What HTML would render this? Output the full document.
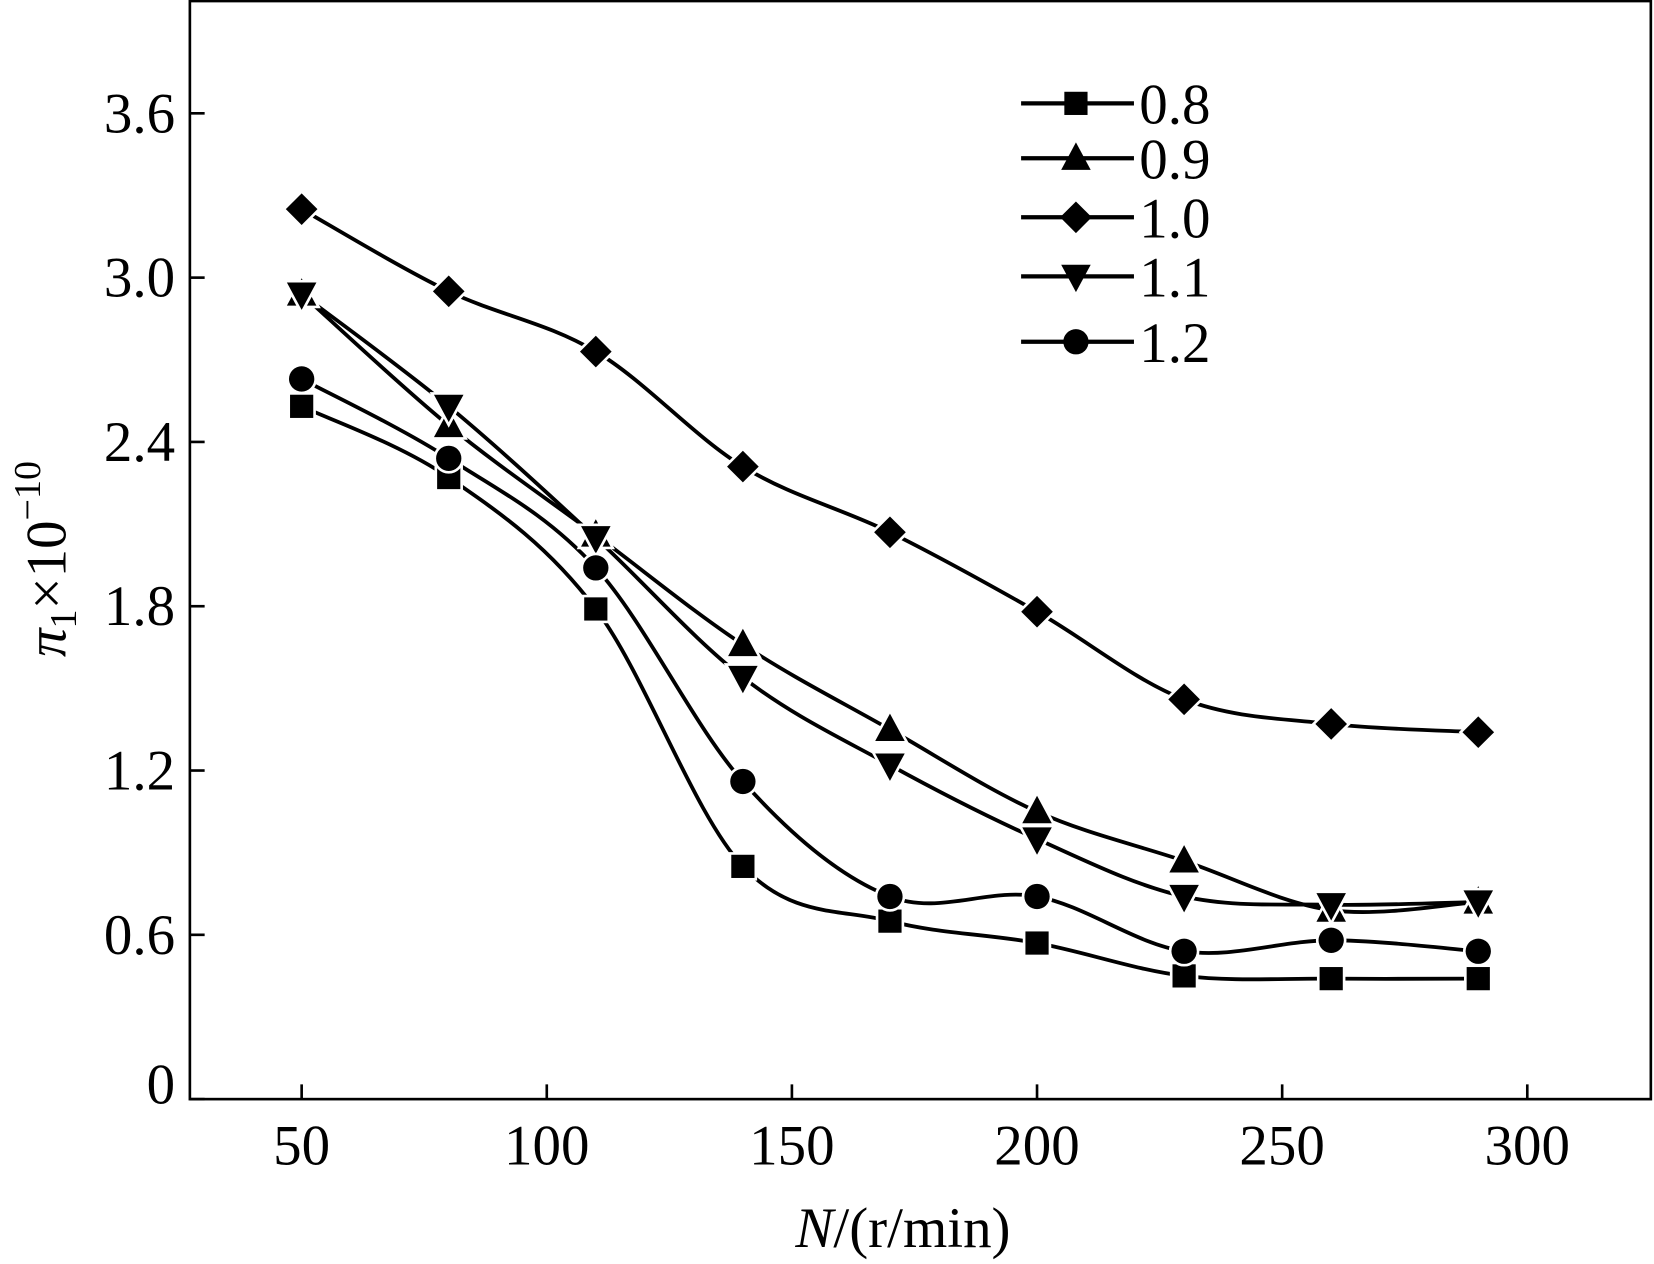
<!DOCTYPE html>
<html><head><meta charset="utf-8"><style>
html,body{margin:0;padding:0;background:#fff;}
svg{display:block;font-family:"Liberation Serif",serif;}
</style></head><body>
<svg id="chart" width="1654" height="1264" viewBox="0 0 1568 1198.3" preserveAspectRatio="none" xmlns="http://www.w3.org/2000/svg">
<g id="plot"></g>
</svg>
<script>
const xValues = [50, 80, 110, 140, 170, 200, 230, 260, 290];
const seriesNames = ["0.8", "0.9", "1.0", "1.1", "1.2"];
const s08 = [2.53, 2.27, 1.79, 0.85, 0.65, 0.57, 0.45, 0.44, 0.44];
const s09 = [2.94, 2.46, 2.06, 1.66, 1.35, 1.05, 0.87, 0.69, 0.72];
const s10 = [3.25, 2.95, 2.73, 2.31, 2.07, 1.78, 1.46, 1.37, 1.34];
const s11 = [2.94, 2.53, 2.05, 1.54, 1.22, 0.95, 0.74, 0.71, 0.72];
const s12 = [2.63, 2.34, 1.94, 1.16, 0.74, 0.74, 0.54, 0.58, 0.54];
const xTicks = [50, 100, 150, 200, 250, 300];
const yTicks = [0, 0.6, 1.2, 1.8, 2.4, 3.0, 3.6];
const yTickLabels = ["0", "0.6", "1.2", "1.8", "2.4", "3.0", "3.6"];

const NS = "http://www.w3.org/2000/svg";
const L = 180, R = 1565, T = 1, B = 1042;
const xMin = 27.2, xMax = 325.2, yMin = 0, yMax = 4.01;
const sx = v => L + (v - xMin) / (xMax - xMin) * (R - L);
const sy = v => B - (v - yMin) / (yMax - yMin) * (B - T);
const g = document.getElementById('plot');
function mk(tag, attrs, parent) {
  const e = document.createElementNS(NS, tag);
  for (const k in attrs) e.setAttribute(k, attrs[k]);
  (parent || g).appendChild(e);
  return e;
}
const frame = mk('rect', {x: L, y: T, width: R - L, height: B - T, fill: 'none', stroke: '#000', 'stroke-width': 2.5});



xTicks.forEach(v => {
  const t = mk('line', {x1: sx(v), x2: sx(v), y1: B, y2: B - 14, stroke: '#000', 'stroke-width': 2.5});
  
  
  const tx = mk('text', {x: sx(v), y: B + 62, 'font-size': 54, 'text-anchor': 'middle'});
  tx.textContent = v;
  
  
});
yTicks.forEach((v, i) => {
  const t = mk('line', {x1: L, x2: L + 14, y1: sy(v), y2: sy(v), stroke: '#000', 'stroke-width': 2.5});
  
  
  const tx = mk('text', {x: L - 14, y: sy(v) + (v === 0 ? 4 : 18), 'font-size': 54, 'text-anchor': 'end'});
  tx.textContent = yTickLabels[i];
  
  
});

const xl = mk('text', {x: 856, y: 1182, 'font-size': 54, 'text-anchor': 'middle'});
xl.innerHTML = '<tspan font-style="italic">N</tspan>/(r/min)';


const yl = mk('text', {x: 0, y: 0, 'font-size': 54, 'text-anchor': 'middle', transform: 'translate(62,530) rotate(-90)'});
yl.innerHTML = '<tspan font-style="italic">π</tspan><tspan font-size="36" dy="10">1</tspan><tspan dy="-10">×10</tspan><tspan font-size="36" dy="-24">−10</tspan>';



function marker(kind, cx, cy, parent) {
  const s = 11, a = {fill: '#000', stroke: '#fff', 'stroke-width': 5, 'paint-order': 'stroke'};
  let e;
  if (kind === 0) e = mk('rect', Object.assign({x: cx - s, y: cy - s, width: 2 * s, height: 2 * s}, a), parent);
  else if (kind === 1) e = mk('polygon', Object.assign({points: `${cx},${cy - 15} ${cx + 14},${cy + 11} ${cx - 14},${cy + 11}`}, a), parent);
  else if (kind === 2) e = mk('polygon', Object.assign({points: `${cx},${cy - 15} ${cx + 15},${cy} ${cx},${cy + 15} ${cx - 15},${cy}`}, a), parent);
  else if (kind === 3) e = mk('polygon', Object.assign({points: `${cx},${cy + 15} ${cx + 14},${cy - 11} ${cx - 14},${cy - 11}`}, a), parent);
  else e = mk('circle', Object.assign({cx: cx, cy: cy, r: 12}, a), parent);
  return e;
}
function curve(pts) {
  let d = `M${pts[0][0]},${pts[0][1]}`;
  for (let i = 0; i < pts.length - 1; i++) {
    const p0 = pts[Math.max(i - 1, 0)], p1 = pts[i], p2 = pts[i + 1], p3 = pts[Math.min(i + 2, pts.length - 1)];
    const c1 = [p1[0] + (p2[0] - p0[0]) / 6, p1[1] + (p2[1] - p0[1]) / 6];
    const c2 = [p2[0] - (p3[0] - p1[0]) / 6, p2[1] - (p3[1] - p1[1]) / 6];
    d += ` C${c1[0]},${c1[1]} ${c2[0]},${c2[1]} ${p2[0]},${p2[1]}`;
  }
  return d;
}
const allSeries = [s08, s09, s10, s11, s12];
allSeries.forEach((vals, k) => {
  const grp = mk('g', {});
  
  
  const pts = vals.map((v, i) => [sx(xValues[i]), sy(v)]);
  const p = mk('path', {d: curve(pts), fill: 'none', stroke: '#000', 'stroke-width': 3.6}, grp);
  
  
});
allSeries.forEach((vals, k) => {
  vals.forEach((v, i) => {
    const m = marker(k, sx(xValues[i]), sy(v));
    
    
  });
});
const legY = [98, 150, 206, 262, 324];
seriesNames.forEach((n, k) => {
  const lg = mk('g', {});
  
  
  mk('line', {x1: 968, x2: 1075, y1: legY[k], y2: legY[k], stroke: '#000', 'stroke-width': 4}, lg);
  const m = marker(k, 1020, legY[k], lg);
  m.setAttribute('stroke', 'none');
  const t = mk('text', {x: 1080, y: legY[k] + 19, 'font-size': 54}, lg);
  t.textContent = n;
});
</script>
</body></html>
